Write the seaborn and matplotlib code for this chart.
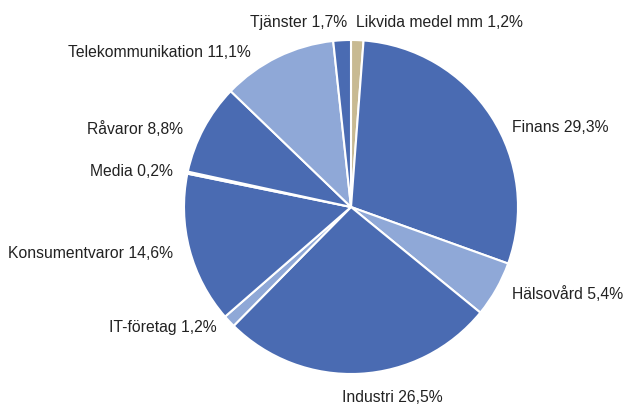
import matplotlib
matplotlib.use("Agg")
import matplotlib.pyplot as plt
import seaborn as sns

# sector weights, clockwise from 12 o'clock
sectors = ["Likvida medel mm", "Finans", "Hälsovård", "Industri", "IT-företag",
           "Konsumentvaror", "Media", "Råvaror", "Telekommunikation", "Tjänster"]
shares = [1.2, 29.3, 5.4, 26.5, 1.2, 14.6, 0.2, 8.8, 11.1, 1.7]

dark = "#4A6BB2"
light = "#8FA8D7"
tan = "#C8BA92"
colors = [tan, dark, light, dark, light, dark, light, dark, light, dark]

# label anchors in pixels (x, baseline y from top) and alignment
label_pos = [(356, 27, "left"), (512, 132, "left"), (512, 299, "left"),
             (392, 402, "center"), (217, 332, "right"), (173, 258, "right"),
             (173, 176, "right"), (183, 134, "right"), (251, 57, "right"),
             (347, 27, "right")]

sns.set_style("white")
plt.rcParams["font.family"] = ["Liberation Sans", "DejaVu Sans"]

fig = plt.figure(figsize=(6.24, 4.05), dpi=100)
# pie centre ~ (351, 207) px, radius ~167 px
cx, cy, r = 351, 207, 167
ax = fig.add_axes([(cx - r) / 624, (405 - cy - r) / 405, 2 * r / 624, 2 * r / 405])

labels = [f"{s} {str(v).replace('.', ',')}%" for s, v in zip(sectors, shares)]
wedges, texts = ax.pie(shares, labels=labels, colors=colors, startangle=90,
                       counterclock=False, labeldistance=1.08,
                       wedgeprops=dict(edgecolor="white", linewidth=1.5),
                       textprops=dict(fontsize=11.3, color="#222222"))
for t, (px, py, ha) in zip(texts, label_pos):
    t.set_position(((px - cx) / r, (cy - py) / r))
    t.set_ha(ha)
    t.set_va("baseline")

ax.set_xlim(-1, 1)
ax.set_ylim(-1, 1)
ax.set_aspect("equal")

fig.savefig("out.png", dpi=100)
